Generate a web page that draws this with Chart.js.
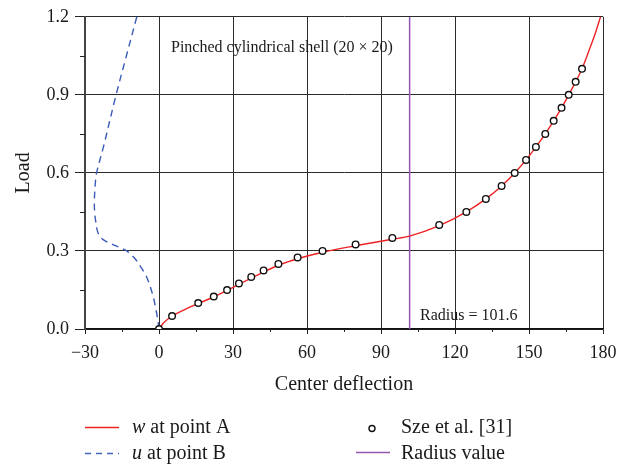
<!DOCTYPE html>
<html>
<head>
<meta charset="utf-8">
<script src="https://cdn.jsdelivr.net/npm/chart.js@4.4.1/dist/chart.umd.min.js"></script>
<style>
    html, body { margin: 0; padding: 0; background: #fff; }
    #wrap { width: 626px; height: 466px; }
</style>
</head>
<body>
<div id="wrap"><canvas id="chart" width="626" height="466"></canvas></div>
<script>
// w at point A (center deflection vs load)
const wX = [0, 1.7, 5.3, 10, 15.9, 22.2, 27.6, 32.4, 37.4, 42.4, 48.4, 56.2, 66.3, 79.7, 94.6, 101.6, 113.6, 124.6, 132.5, 138.9, 144.2, 148.8, 152.8, 156.6, 160, 163.2, 166.1, 168.9, 171.5, 174.7, 177, 179];
const wY = [0, 0.022, 0.05, 0.073, 0.098, 0.123, 0.148, 0.172, 0.196, 0.219, 0.245, 0.27, 0.295, 0.32, 0.345, 0.357, 0.397, 0.45, 0.5, 0.55, 0.6, 0.65, 0.7, 0.75, 0.8, 0.85, 0.9, 0.95, 1.0, 1.08, 1.14, 1.2];

// u at point B
const uX = [0, -0.4, -1.2, -2.5, -5, -7.5, -9.7, -13.1, -16, -19.2, -22, -24, -25, -25.6, -26.1, -26.2, -25.9, -25.3, -22.6, -17.4, -13.1, -9];
const uY = [0, 0.03, 0.073, 0.13, 0.2, 0.24, 0.27, 0.3, 0.314, 0.327, 0.34, 0.356, 0.378, 0.41, 0.45, 0.49, 0.55, 0.6, 0.697, 0.9, 1.054, 1.2];

// Sze et al. [31] reference points
const szeX = [0, 5.3, 15.9, 22.2, 27.6, 32.4, 37.4, 42.4, 48.4, 56.2, 66.3, 79.7, 94.6, 113.6, 124.6, 132.5, 138.9, 144.2, 148.8, 152.8, 156.6, 160, 163.2, 166.1, 168.9, 171.5];
const szeY = [0, 0.05, 0.1, 0.125, 0.15, 0.175, 0.2, 0.225, 0.25, 0.275, 0.3, 0.325, 0.35, 0.4, 0.45, 0.5, 0.55, 0.6, 0.65, 0.7, 0.75, 0.8, 0.85, 0.9, 0.95, 1.0];

const radius = 101.6;
const loadRange = [0, 1.2];

const xTicks = [-30, 0, 30, 60, 90, 120, 150, 180];
const yTicks = [0, 0.3, 0.6, 0.9, 1.2];

const serif = '"Liberation Serif", "Times New Roman", serif';
const gridColor = '#2a2a2a';

function toPoints(xs, ys) {
    return xs.map((x, i) => ({ x: x, y: ys[i] }));
}

function isMajorX(v) {
    return xTicks.some(t => Math.abs(t - v) < 1e-6);
}

function isMajorY(v) {
    return yTicks.some(t => Math.abs(t - v) < 1e-6);
}

function fmtX(v) {
    return v < 0 ? '\u2212' + Math.abs(v) : String(v);
}

// minor ticks, annotations and the legend
const extras = {
    id: 'extras',
    afterDraw(chart) {
        const ctx = chart.ctx;
        const xs = chart.scales.x;
        const ys = chart.scales.y;
        ctx.save();

        // minor ticks
        ctx.strokeStyle = '#222';
        ctx.lineWidth = 1;
        xs.ticks.forEach(t => {
            if (isMajorX(t.value)) return;
            const px = Math.round(xs.getPixelForValue(t.value)) + 0.5;
            ctx.beginPath();
            ctx.moveTo(px, ys.bottom);
            ctx.lineTo(px, ys.bottom + 3);
            ctx.stroke();
        });
        ys.ticks.forEach(t => {
            if (isMajorY(t.value)) return;
            const py = Math.round(ys.getPixelForValue(t.value)) + 0.5;
            ctx.beginPath();
            ctx.moveTo(xs.left - 5, py);
            ctx.lineTo(xs.left, py);
            ctx.stroke();
        });

        // annotations
        ctx.fillStyle = '#1a1a1a';
        ctx.textBaseline = 'alphabetic';
        ctx.textAlign = 'left';
        ctx.font = '16px ' + serif;
        ctx.fillText('Pinched cylindrical shell (20 \u00d7 20)', 171, 52);
        ctx.fillText('Radius = 101.6', 420, 320);

        // legend
        ctx.font = '20px ' + serif;
        ctx.lineWidth = 1.5;

        ctx.strokeStyle = '#ee2222';
        ctx.beginPath();
        ctx.moveTo(85, 427.5);
        ctx.lineTo(119, 427.5);
        ctx.stroke();

        ctx.strokeStyle = '#4466bb';
        ctx.setLineDash([6, 5]);
        ctx.beginPath();
        ctx.moveTo(85, 453.5);
        ctx.lineTo(119, 453.5);
        ctx.stroke();
        ctx.setLineDash([]);

        ctx.strokeStyle = '#9457b0';
        ctx.beginPath();
        ctx.moveTo(356, 452.5);
        ctx.lineTo(390, 452.5);
        ctx.stroke();

        ctx.strokeStyle = '#111';
        ctx.lineWidth = 1.4;
        ctx.fillStyle = '#fff';
        ctx.beginPath();
        ctx.arc(372, 428.5, 3, 0, Math.PI * 2);
        ctx.fill();
        ctx.stroke();

        ctx.fillStyle = '#1a1a1a';
        let x0 = 132;
        ctx.font = 'italic 20px ' + serif;
        ctx.fillText('w', x0, 433);
        x0 += ctx.measureText('w').width;
        ctx.font = '20px ' + serif;
        ctx.fillText(' at point A', x0, 433);

        x0 = 132;
        ctx.font = 'italic 20px ' + serif;
        ctx.fillText('u', x0, 459);
        x0 += ctx.measureText('u').width;
        ctx.font = '20px ' + serif;
        ctx.fillText(' at point B', x0, 459);

        ctx.fillText('Sze et al. [31]', 401, 433);
        ctx.fillText('Radius value', 401, 459);

        ctx.restore();
    }
};

new Chart(document.getElementById('chart'), {
    type: 'scatter',
    data: {
        datasets: [
            {
                label: 'Sze et al. [31]',
                data: toPoints(szeX, szeY),
                pointRadius: 3.3,
                pointBorderWidth: 1.4,
                pointBorderColor: '#111',
                pointBackgroundColor: '#fff',
                showLine: false,
                order: 0
            },
            {
                label: 'w at point A',
                data: toPoints(wX, wY),
                showLine: true,
                borderColor: '#ee2222',
                borderWidth: 1.4,
                pointRadius: 0,
                cubicInterpolationMode: 'monotone',
                order: 1
            },
            {
                label: 'u at point B',
                data: toPoints(uX, uY),
                showLine: true,
                borderColor: '#3a5cb8',
                borderWidth: 1.4,
                borderDash: [7, 5],
                pointRadius: 0,
                tension: 0.35,
                order: 2
            },
            {
                label: 'Radius value',
                data: toPoints([radius, radius], loadRange),
                showLine: true,
                borderColor: '#9457b0',
                borderWidth: 1.5,
                pointRadius: 0,
                order: 3
            }
        ]
    },
    options: {
        responsive: false,
        animation: false,
        layout: {
            padding: { left: 12, right: 23, top: 15, bottom: 69 }
        },
        plugins: {
            legend: { display: false },
            tooltip: { enabled: false }
        },
        scales: {
            x: {
                type: 'linear',
                min: -30,
                max: 180,
                afterFit: (scale) => { scale.height = 68; },
                border: { display: true, color: '#111', width: 1.5 },
                grid: {
                    color: (c) => (c.tick && isMajorX(c.tick.value) ? gridColor : 'rgba(0,0,0,0)'),
                    tickColor: (c) => (c.tick && isMajorX(c.tick.value) ? '#222' : 'rgba(0,0,0,0)'),
                    tickLength: 5,
                    lineWidth: 1
                },
                ticks: {
                    stepSize: 15,
                    autoSkip: false,
                    maxRotation: 0,
                    padding: 8,
                    color: '#1a1a1a',
                    font: { family: serif, size: 18 },
                    callback: (v) => (isMajorX(v) ? fmtX(v) : '')
                },
                title: {
                    display: true,
                    text: 'Center deflection',
                    color: '#1a1a1a',
                    padding: 0,
                    font: { family: serif, size: 20 }
                }
            },
            y: {
                type: 'linear',
                min: 0,
                max: 1.2,
                afterFit: (scale) => { scale.width = 73; },
                border: { display: true, color: '#444', width: 2 },
                grid: {
                    color: (c) => (c.tick && isMajorY(c.tick.value) ? gridColor : 'rgba(0,0,0,0)'),
                    tickColor: (c) => (c.tick && isMajorY(c.tick.value) ? '#222' : 'rgba(0,0,0,0)'),
                    tickLength: 10,
                    lineWidth: 1
                },
                ticks: {
                    stepSize: 0.15,
                    autoSkip: false,
                    padding: 6,
                    color: '#1a1a1a',
                    font: { family: serif, size: 18 },
                    callback: (v) => (isMajorY(v) ? v.toFixed(1) : '')
                },
                title: {
                    display: true,
                    text: 'Load',
                    color: '#1a1a1a',
                    padding: 0,
                    font: { family: serif, size: 20 }
                }
            }
        }
    },
    plugins: [extras]
});
</script>
</body>
</html>
